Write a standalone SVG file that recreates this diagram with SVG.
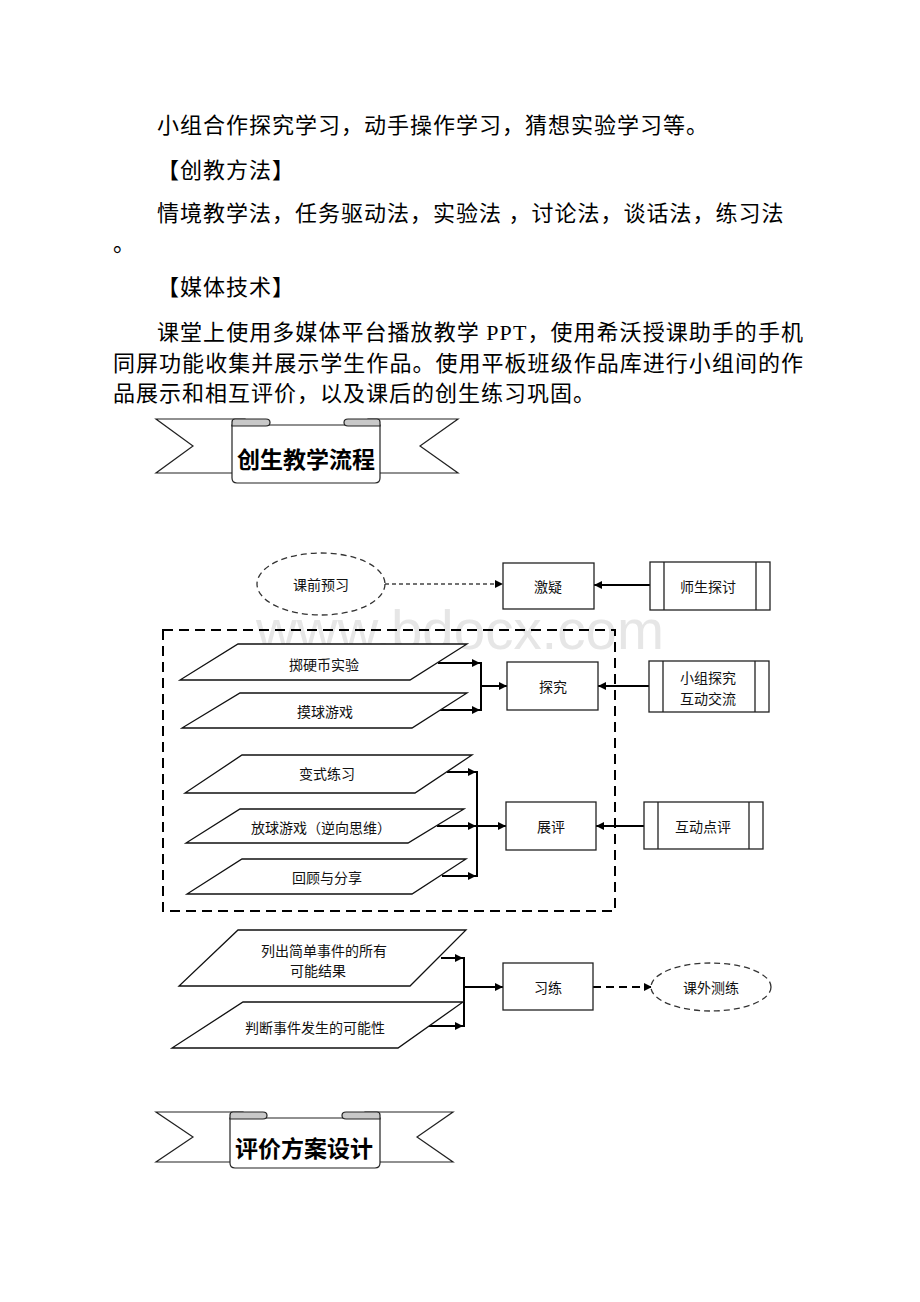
<svg xmlns="http://www.w3.org/2000/svg" width="920" height="1302" viewBox="0 0 920 1302">
<style>
.t{font-family:"Liberation Serif","Noto Sans CJK SC",serif;font-size:22px;fill:#000;letter-spacing:1px}
.lbl{font-family:"Noto Sans CJK SC","Liberation Sans",sans-serif;font-size:14px;fill:#111;text-anchor:middle;dominant-baseline:central}
.ttl{font-family:"Noto Sans CJK SC",sans-serif;font-size:23px;font-weight:700;fill:#000;text-anchor:middle;dominant-baseline:central}
.box{fill:#fff;stroke:#222;stroke-width:1.3}
.para{fill:#fff;stroke:#111;stroke-width:1.3}
.ell{fill:#fff;stroke:#333;stroke-width:1.3;stroke-dasharray:6 4}
.frame{fill:none;stroke:#000;stroke-width:2;stroke-dasharray:10 6}
.conn{fill:none;stroke:#000;stroke-width:2}
.d1{fill:none;stroke:#444;stroke-width:1.3;stroke-dasharray:4 3}
.d2{fill:none;stroke:#000;stroke-width:2;stroke-dasharray:8 5}
.rib{fill:#fff;stroke:#222;stroke-width:1.2}
.roll{fill:#c8c8c8;stroke:#222;stroke-width:1.2}
.wm{font-family:"Liberation Sans",Arial,sans-serif;font-size:55px;fill:#e6e6e6}
</style>
<defs>
<marker id="ah" viewBox="0 0 10 10" refX="10" refY="5" markerWidth="8" markerHeight="8" markerUnits="userSpaceOnUse" orient="auto"><path d="M0,0 L10,5 L0,10 z" fill="#000" stroke="none"/></marker>
</defs>
<rect width="920" height="1302" fill="#fff"/>

<g id="body-text">
<text class="t" x="157" y="133">小组合作探究学习，动手操作学习，猜想实验学习等。</text>
<text class="t" x="157" y="178">【创教方法】</text>
<text class="t" x="157" y="221">情境教学法，任务驱动法，实验法 ，讨论法，谈话法，练习法</text>
<text class="t" x="113" y="251">。</text>
<text class="t" x="157" y="295">【媒体技术】</text>
<text class="t" x="157" y="340" textLength="646" lengthAdjust="spacing" style="letter-spacing:0">课堂上使用多媒体平台播放教学 PPT，使用希沃授课助手的手机</text>
<text class="t" x="113" y="370.5" textLength="690" lengthAdjust="spacing" style="letter-spacing:0">同屏功能收集并展示学生作品。使用平板班级作品库进行小组间的作</text>
<text class="t" x="113" y="401">品展示和相互评价，以及课后的创生练习巩固。</text>
</g>

<g id="banner-1">
<path class="rib" d="M156,419 L245,419 L245,473 L156,473 L193,446 Z"/>
<path class="rib" d="M458,419 L368,419 L368,473 L458,473 L420,446 Z"/>
<path class="rib" d="M232,425 L380,425 L380,478 Q380,483 375,483 L237,483 Q232,483 232,478 Z"/>
<path class="roll" d="M232,426 L232,422 Q232,419 235,419 L266,419 Q270,419 270,422.5 Q270,426 266,426 Z"/>
<path class="roll" d="M380,426 L380,422 Q380,419 377,419 L348,419 Q344,419 344,422.5 Q344,426 348,426 Z"/>
<text class="ttl" x="306" y="458">创生教学流程</text>
</g>

<text class="wm" x="256" y="649" textLength="408" lengthAdjust="spacingAndGlyphs">www.bdocx.com</text>

<g id="group-frame"><rect class="frame" x="163" y="630" width="452" height="281"/></g>

<g id="connectors">
<path class="d1" d="M385,584 L503,584" marker-end="url(#ah)"/>
<path class="conn" d="M650,585 L594,585" marker-end="url(#ah)"/>
<path class="conn" d="M438,663 L480,663" marker-end="url(#ah)"/>
<path class="conn" d="M440,710 L480,710" marker-end="url(#ah)"/>
<path class="conn" d="M481,662 L481,711"/>
<path class="conn" d="M481,686 L507,686" marker-end="url(#ah)"/>
<path class="conn" d="M649,686 L598,686" marker-end="url(#ah)"/>
<path class="conn" d="M447,772 L476,772" marker-end="url(#ah)"/>
<path class="conn" d="M437,826 L476,826" marker-end="url(#ah)"/>
<path class="conn" d="M442,876 L476,876" marker-end="url(#ah)"/>
<path class="conn" d="M477,771 L477,877"/>
<path class="conn" d="M477,826 L506,826" marker-end="url(#ah)"/>
<path class="conn" d="M644,826 L596,826" marker-end="url(#ah)"/>
<path class="conn" d="M441,958 L463,958" marker-end="url(#ah)"/>
<path class="conn" d="M428,1026 L463,1026" marker-end="url(#ah)"/>
<path class="conn" d="M464,957 L464,1027"/>
<path class="conn" d="M464,987 L503,987" marker-end="url(#ah)"/>
<path class="d2" d="M593,987 L652,987" marker-end="url(#ah)"/>
</g>

<g id="n-kqyx"><ellipse class="ell" cx="321" cy="584" rx="64" ry="31"/><text class="lbl" x="321" y="584">课前预习</text></g>
<g id="n-jiyi"><rect class="box" x="503" y="563" width="91" height="46"/><text class="lbl" x="548" y="586">激疑</text></g>
<g id="n-sstt"><rect class="box" x="650" y="562" width="120" height="48"/><path class="box" d="M664,562 V610 M756,562 V610"/><text class="lbl" x="708" y="586">师生探讨</text></g>

<g id="n-zyb"><polygon class="para" points="238,644 467,644 410,680 180,680"/><text class="lbl" x="324" y="664">掷硬币实验</text></g>
<g id="n-mqyx"><polygon class="para" points="240,693 467,693 412,728 182,728"/><text class="lbl" x="325" y="711">摸球游戏</text></g>
<g id="n-tanjiu"><rect class="box" x="507" y="662" width="91" height="48"/><text class="lbl" x="553" y="686">探究</text></g>
<g id="n-xztj"><rect class="box" x="649" y="661" width="120" height="51"/><path class="box" d="M663,661 V712 M755,661 V712"/><text class="lbl" x="708" y="677">小组探究</text><text class="lbl" x="708" y="698">互动交流</text></g>

<g id="n-bslx"><polygon class="para" points="242,755 472,755 415,793 185,793"/><text class="lbl" x="327" y="773">变式练习</text></g>
<g id="n-fqyx"><polygon class="para" points="240,809 464,809 408,843 186,843"/><text class="lbl" x="321" y="827">放球游戏（逆向思维）</text></g>
<g id="n-hgfx"><polygon class="para" points="242,859 466,859 412,894 187,894"/><text class="lbl" x="327" y="877">回顾与分享</text></g>
<g id="n-zhanping"><rect class="box" x="506" y="802" width="90" height="48"/><text class="lbl" x="551" y="826">展评</text></g>
<g id="n-hddp"><rect class="box" x="644" y="802" width="119" height="47"/><path class="box" d="M658,802 V849 M749,802 V849"/><text class="lbl" x="703" y="826">互动点评</text></g>

<g id="n-lcjd"><polygon class="para" points="238,930 466,930 410,986 179,986"/><text class="lbl" x="324" y="950">列出简单事件的所有</text><text class="lbl" x="318" y="970">可能结果</text></g>
<g id="n-pdsj"><polygon class="para" points="243,1002 463,1002 398,1048 172,1048"/><text class="lbl" x="315" y="1027">判断事件发生的可能性</text></g>
<g id="n-xilian"><rect class="box" x="503" y="963" width="90" height="47"/><text class="lbl" x="548" y="987">习练</text></g>
<g id="n-kwcl"><ellipse class="ell" cx="711" cy="987" rx="60" ry="24"/><text class="lbl" x="711" y="987">课外测练</text></g>

<g id="banner-2">
<path class="rib" d="M156,1112 L243,1112 L243,1162 L156,1162 L193,1137 Z"/>
<path class="rib" d="M453,1112 L365,1112 L365,1162 L453,1162 L417,1137 Z"/>
<path class="rib" d="M230,1118 L380,1118 L380,1163 Q380,1168 375,1168 L235,1168 Q230,1168 230,1163 Z"/>
<path class="roll" d="M230,1119 L230,1115 Q230,1112 233,1112 L263,1112 Q267,1112 267,1115.5 Q267,1119 263,1119 Z"/>
<path class="roll" d="M380,1119 L380,1115 Q380,1112 377,1112 L346,1112 Q342,1112 342,1115.5 Q342,1119 346,1119 Z"/>
<text class="ttl" x="304" y="1147">评价方案设计</text>
</g>
</svg>
